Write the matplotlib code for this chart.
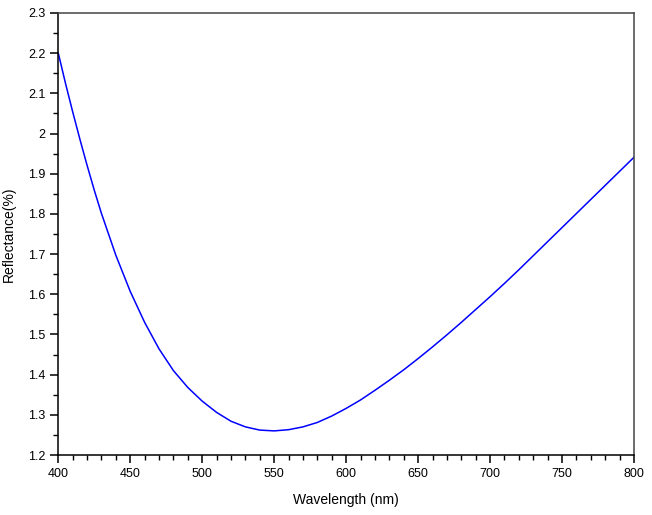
import matplotlib
matplotlib.use("Agg")
import matplotlib.pyplot as plt
import matplotlib.ticker as ticker

# wavelength (nm) and reflectance (%)
wavelength = [400, 405, 410, 415, 420, 425, 430, 440, 450, 460, 470, 480, 490,
              500, 510, 520, 530, 540, 550, 560, 570, 580, 590, 600, 610, 620,
              630, 640, 650, 660, 670, 680, 690, 700, 710, 720, 730, 740, 750,
              760, 770, 780, 790, 800]
reflectance = [2.200, 2.125, 2.054, 1.986, 1.921, 1.859, 1.801, 1.697, 1.607,
               1.530, 1.464, 1.410, 1.368, 1.334, 1.306, 1.284, 1.270, 1.262,
               1.260, 1.263, 1.270, 1.281, 1.297, 1.316, 1.337, 1.361, 1.386,
               1.412, 1.440, 1.469, 1.499, 1.530, 1.562, 1.594, 1.627, 1.661,
               1.696, 1.731, 1.766, 1.801, 1.836, 1.871, 1.906, 1.941]

x_ticks = [400, 450, 500, 550, 600, 650, 700, 750, 800]
y_ticks = [1.2, 1.3, 1.4, 1.5, 1.6, 1.7, 1.8, 1.9, 2.0, 2.1, 2.2, 2.3]

plt.rcParams["font.family"] = ["Liberation Sans", "DejaVu Sans"]

fig = plt.figure(figsize=(6.52, 5.15), dpi=100)
ax = fig.add_axes([0.0894, 0.1165, 0.883, 0.8583])

ax.plot(wavelength, reflectance, color="#0000ff", linewidth=1.1)

ax.set_xlim(400, 800)
ax.set_ylim(1.2, 2.3)
ax.set_xticks(x_ticks)
ax.set_yticks(y_ticks)
ax.xaxis.set_minor_locator(ticker.MultipleLocator(10))
ax.yaxis.set_minor_locator(ticker.MultipleLocator(0.05))
ax.yaxis.set_major_formatter(ticker.FormatStrFormatter("%g"))

ax.tick_params(which="major", direction="out", length=6, width=1.1,
               labelsize=9, pad=3, top=False, right=False)
ax.tick_params(which="minor", direction="out", length=3.5, width=1.0,
               top=False, right=False)

for side in ("left", "bottom"):
    ax.spines[side].set_linewidth(1.1)
    ax.spines[side].set_color("black")
for side in ("top", "right"):
    ax.spines[side].set_linewidth(1.1)
    ax.spines[side].set_color("#444444")

ax.set_xlabel("Wavelength (nm)", fontsize=10, labelpad=10)
ax.set_ylabel("Reflectance(%)", fontsize=10, labelpad=9)

fig.savefig("out.png", dpi=100)
